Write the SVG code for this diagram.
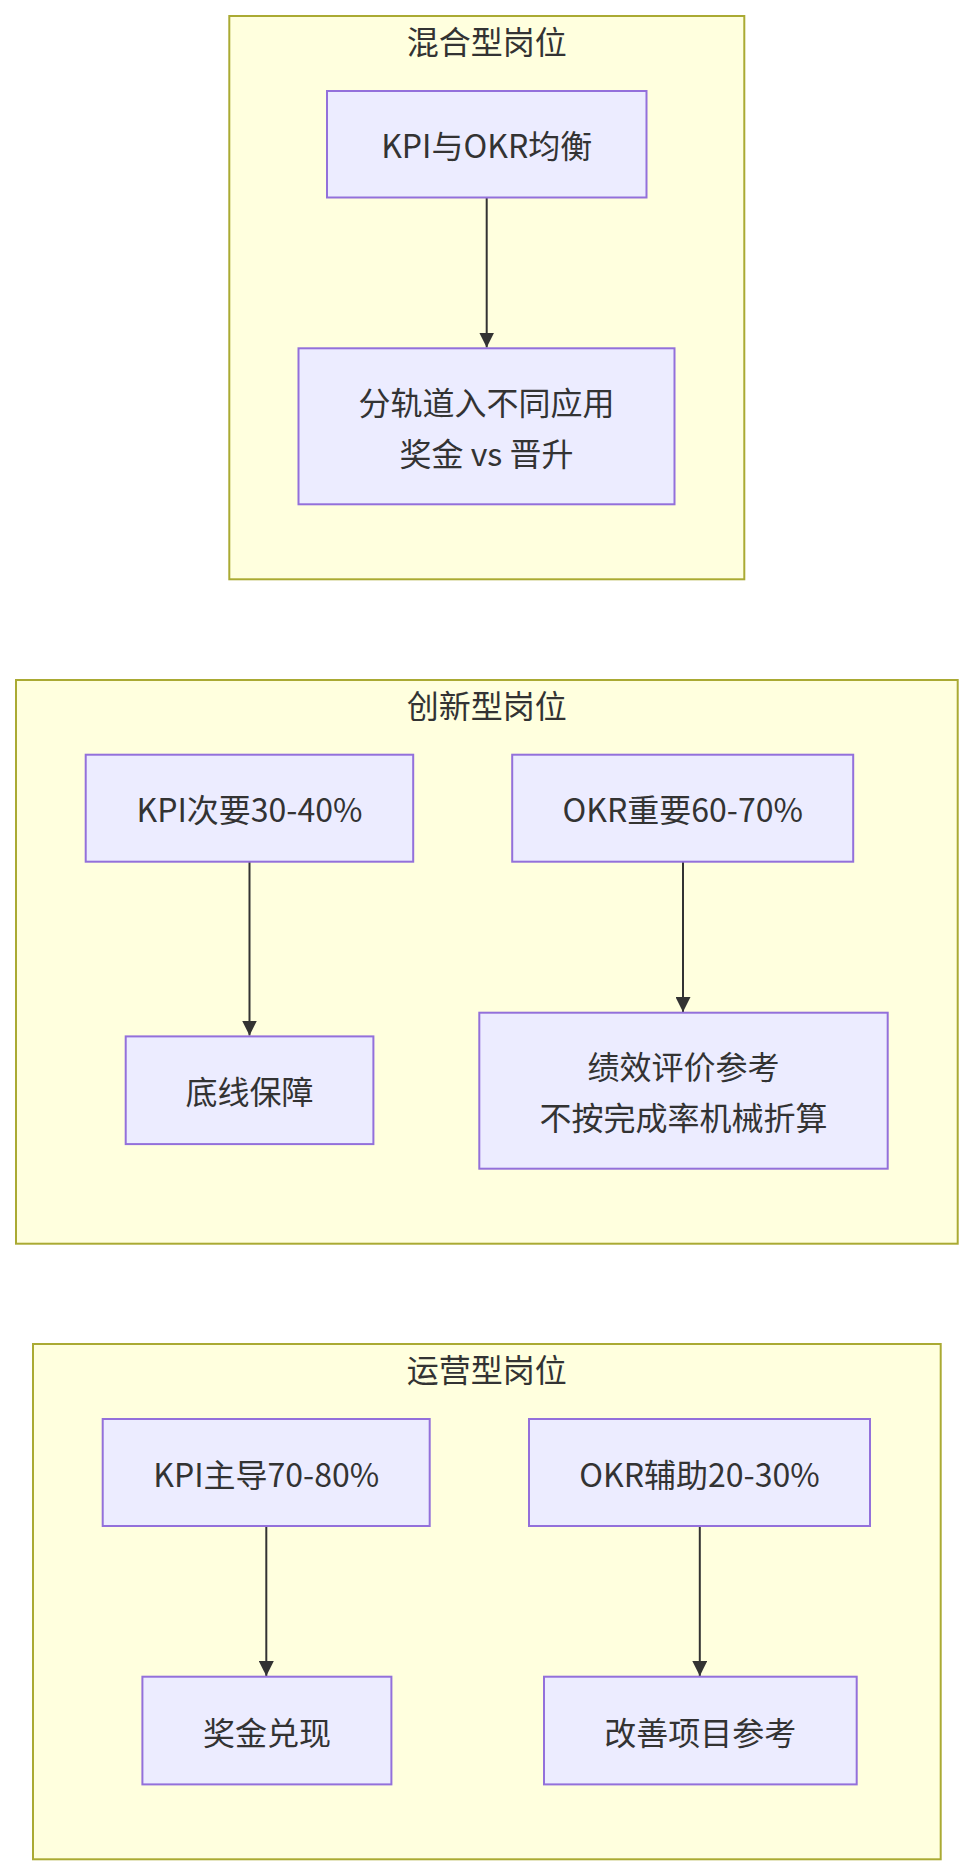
<svg xmlns="http://www.w3.org/2000/svg" width="973" height="1876" viewBox="0 0 973 1876">
<style>
.cluster{fill:#ffffde;stroke:#aaaa33;stroke-width:2}
.node rect{fill:#ececff;stroke:#9370db;stroke-width:2}
text{font-family:"Noto Sans CJK SC","Noto Sans",sans-serif;font-size:32px;fill:#333333;text-anchor:middle;dominant-baseline:central}
.edge{stroke:#333333;stroke-width:2;fill:none}
</style>
<defs>
<marker id="arrow" viewBox="0 0 10 10" refX="10" refY="5" markerUnits="userSpaceOnUse" markerWidth="15" markerHeight="15" orient="auto">
<path d="M0,0 L10,5 L0,10 z" fill="#333333"/>
</marker>
</defs>
<rect class="cluster" x="0" y="0" width="973" height="1876" style="fill:#ffffff;stroke:none"/>
<g id="cluster-hybrid">
<rect class="cluster" x="229.3" y="16" width="515" height="563.3"/>
<text x="486.7" y="40">混合型岗位</text>
</g>
<g id="cluster-innovation">
<rect class="cluster" x="16" y="680" width="941.7" height="563.7"/>
<text x="486.8" y="704">创新型岗位</text>
</g>
<g id="cluster-operation">
<rect class="cluster" x="33" y="1344" width="907.7" height="515.3"/>
<text x="486.8" y="1368">运营型岗位</text>
</g>
<g id="edges">
<line class="edge" x1="486.7" y1="197.5" x2="486.7" y2="347.5" marker-end="url(#arrow)"/>
<line class="edge" x1="249.5" y1="861.7" x2="249.5" y2="1035.5" marker-end="url(#arrow)"/>
<line class="edge" x1="683" y1="861.7" x2="683" y2="1012" marker-end="url(#arrow)"/>
<line class="edge" x1="266.3" y1="1526" x2="266.3" y2="1676" marker-end="url(#arrow)"/>
<line class="edge" x1="699.8" y1="1526" x2="699.8" y2="1676" marker-end="url(#arrow)"/>
</g>
<g id="node-balance" class="node">
<rect x="327" y="91" width="319.5" height="106.5"/>
<text x="486.7" y="144.3">KPI与OKR均衡</text>
</g>
<g id="node-split" class="node">
<rect x="298.5" y="348.3" width="376" height="156"/>
<text x="486.5" y="401">分轨道入不同应用</text>
<text x="486.5" y="452">奖金 vs 晋升</text>
</g>
<g id="node-kpi-secondary" class="node">
<rect x="85.7" y="754.7" width="327.5" height="107"/>
<text x="249.5" y="808.2">KPI次要30-40%</text>
</g>
<g id="node-okr-important" class="node">
<rect x="512.2" y="754.7" width="341" height="107"/>
<text x="682.7" y="808.2">OKR重要60-70%</text>
</g>
<g id="node-baseline" class="node">
<rect x="125.7" y="1036.4" width="247.7" height="107.7"/>
<text x="249.5" y="1090.2">底线保障</text>
</g>
<g id="node-perf" class="node">
<rect x="479.3" y="1012.7" width="408.4" height="156"/>
<text x="683.5" y="1065.2">绩效评价参考</text>
<text x="683.5" y="1116.2">不按完成率机械折算</text>
</g>
<g id="node-kpi-lead" class="node">
<rect x="102.7" y="1419" width="327" height="107"/>
<text x="266.2" y="1472.5">KPI主导70-80%</text>
</g>
<g id="node-okr-aux" class="node">
<rect x="529" y="1419" width="341" height="107"/>
<text x="699.5" y="1472.5">OKR辅助20-30%</text>
</g>
<g id="node-bonus" class="node">
<rect x="142.4" y="1676.7" width="249" height="107.7"/>
<text x="266.9" y="1730.5">奖金兑现</text>
</g>
<g id="node-improve" class="node">
<rect x="544" y="1676.7" width="312.7" height="107.7"/>
<text x="700.3" y="1730.5">改善项目参考</text>
</g>
</svg>
